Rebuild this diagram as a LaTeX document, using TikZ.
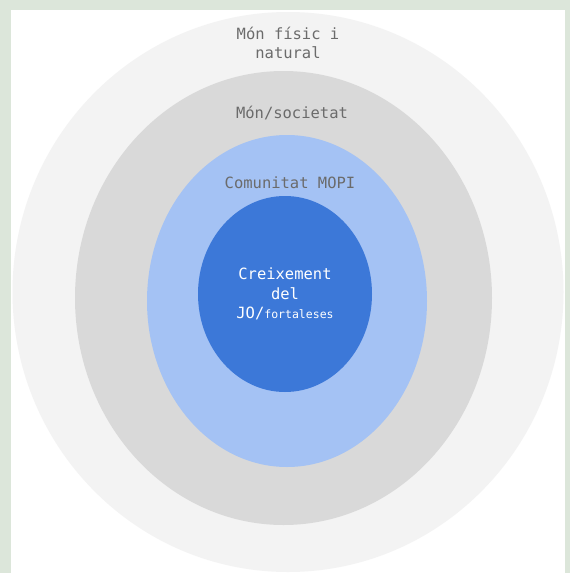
\documentclass[tikz,border=0pt]{standalone}
\usepackage{fontspec}
\setmonofont{DejaVu Sans Mono}
\usetikzlibrary{shapes.geometric}

\definecolor{framegreen}{HTML}{DCE6DA}
\definecolor{outergray}{HTML}{F3F3F3}
\definecolor{midgray}{HTML}{D9D9D9}
\definecolor{lightblue}{HTML}{A4C2F4}
\definecolor{darkblue}{HTML}{3C78D8}
\definecolor{labelgray}{HTML}{6B6B6B}

\begin{document}
\begin{tikzpicture}[x=1pt, y=-1pt, font=\ttfamily\fontsize{15.5}{19.5}\selectfont]
\tikzstyle{ring}=[ellipse, inner sep=0pt, draw=none]
\tikzstyle{tag}=[text=labelgray, align=center, inner sep=0pt]
\useasboundingbox (0,0) rectangle (570,573);
\fill[framegreen] (0,0) rectangle (570,573);
\fill[white] (11,10) rectangle (565,573);
% rings, outside in
\node[ring, fill=outergray, minimum width=551pt, minimum height=560pt] (fisic)     at (288,292) {};
\node[ring, fill=midgray,   minimum width=417pt, minimum height=454pt] (societat)  at (283.5,298) {};
\node[ring, fill=lightblue, minimum width=280pt, minimum height=332pt] (comunitat) at (287,301) {};
\node[ring, fill=darkblue,  minimum width=174pt, minimum height=196pt] (jo)        at (285,294) {};
% labels
\node[tag] (fisiclabel)     at (288,43)  {Món físic i\\natural};
\node[tag] (societatlabel)  at (292,113) {Món/societat};
\node[tag] (comunitatlabel) at (290,183) {Comunitat MOPI};
\node[tag, text=white] (jolabel) at (jo.center)
  {Creixement\\del\\JO/{\fontsize{11.5}{19.5}\selectfont fortaleses}};
\end{tikzpicture}
\end{document}
